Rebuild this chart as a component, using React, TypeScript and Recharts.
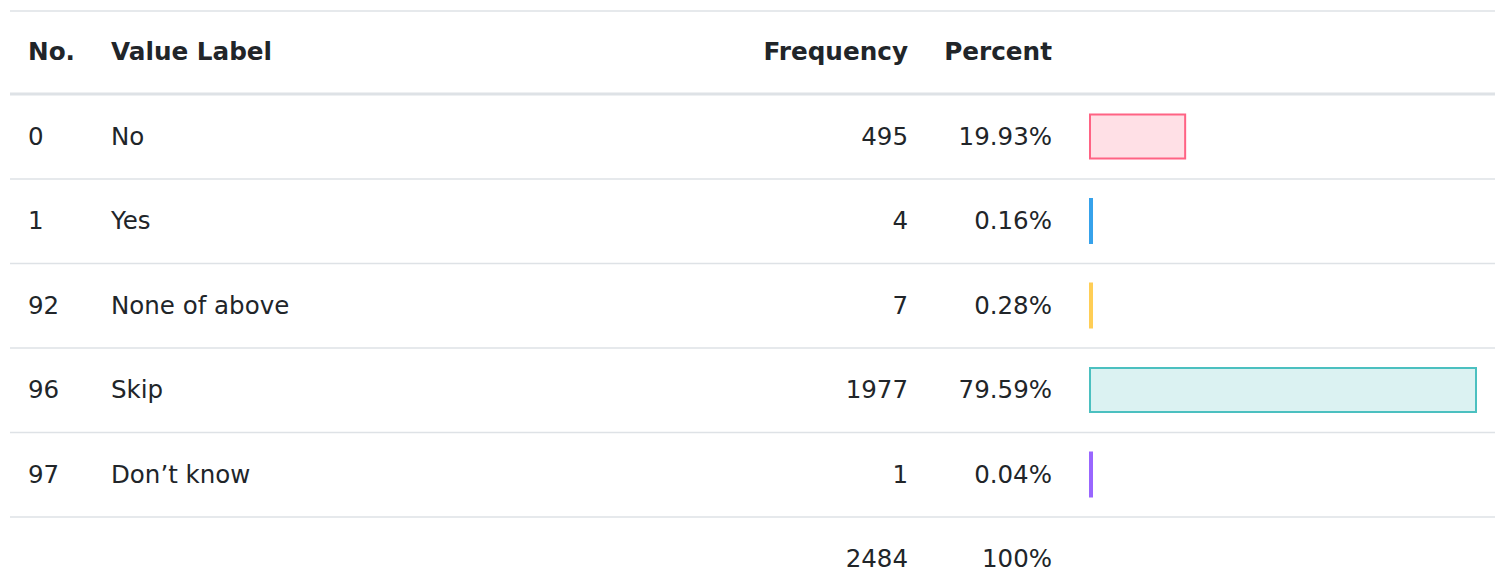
import React from 'react';
import { ComposedChart, Bar, XAxis, YAxis, Customized } from 'recharts';

const codes = ['0', '1', '92', '96', '97'];
const valueLabels = ['No', 'Yes', 'None of above', 'Skip', 'Don\u2019t know'];
const frequencies = [495, 4, 7, 1977, 1];
const percents = [19.93, 0.16, 0.28, 79.59, 0.04];
const barColors = ['#FF6384', '#36A2EB', '#FFCE56', '#4BC0C0', '#9966FF'];
const totalFrequency = 2484;
const totalPercentLabel = '100%';
const headers = ['No.', 'Value Label', 'Frequency', 'Percent'];

const data = [
  ...codes.map((c, i) => ({
    key: 'r' + i,
    code: c,
    label: valueLabels[i],
    freq: String(frequencies[i]),
    pctText: percents[i].toFixed(2) + '%',
    pct: percents[i],
    color: barColors[i],
  })),
  { key: 'total', code: '', label: '', freq: String(totalFrequency), pctText: totalPercentLabel, pct: null, color: '#000' },
];

const FONT = '"DejaVu Sans", sans-serif';
const TEXT = '#212529';
const LINE = '#dee2e6';
const TABLE_LEFT = 10;
const TABLE_RIGHT = 1495;
const COL_NO = 28;
const COL_LABEL = 111;
const COL_FREQ = 908;
const COL_PCT = 1052;
const ROW_H = 84.5;
const FS = 24.5;
const FS_BOLD = 24.7;

const RowTick = (props: any) => {
  const { y, payload } = props;
  const row = data[payload.index];
  if (!row) return null;
  const by = y + 8;
  const isLast = payload.index === data.length - 1;
  return (
    <g>
      <text x={COL_NO} y={by} fontSize={FS} fill={TEXT} fontFamily={FONT} textAnchor="start">{row.code}</text>
      <text x={COL_LABEL} y={by} fontSize={FS} fill={TEXT} fontFamily={FONT} textAnchor="start">{row.label}</text>
      <text x={COL_FREQ} y={by} fontSize={FS} fill={TEXT} fontFamily={FONT} textAnchor="end">{row.freq}</text>
      <text x={COL_PCT} y={by} fontSize={FS} fill={TEXT} fontFamily={FONT} textAnchor="end">{row.pctText}</text>
      {!isLast && (
        <line x1={TABLE_LEFT} x2={TABLE_RIGHT} y1={y + ROW_H / 2} y2={y + ROW_H / 2} stroke={LINE} strokeWidth={1.5} />
      )}
    </g>
  );
};

const Header = () => (
  <g>
    <line x1={TABLE_LEFT} x2={TABLE_RIGHT} y1={11} y2={11} stroke={LINE} strokeWidth={1.5} />
    <text x={COL_NO} y={59.5} fontSize={FS_BOLD} fontWeight="bold" fill={TEXT} fontFamily={FONT}>{headers[0]}</text>
    <text x={COL_LABEL} y={59.5} fontSize={FS_BOLD} fontWeight="bold" fill={TEXT} fontFamily={FONT}>{headers[1]}</text>
    <text x={COL_FREQ} y={59.5} fontSize={FS_BOLD} fontWeight="bold" fill={TEXT} fontFamily={FONT} textAnchor="end">{headers[2]}</text>
    <text x={COL_PCT} y={59.5} fontSize={FS_BOLD} fontWeight="bold" fill={TEXT} fontFamily={FONT} textAnchor="end">{headers[3]}</text>
    <line x1={TABLE_LEFT} x2={TABLE_RIGHT} y1={94} y2={94} stroke={LINE} strokeWidth={3} />
  </g>
);

const BarShape = (props: any) => {
  const { x, y, width, height, payload } = props;
  if (payload.pct == null) return null;
  const color = payload.color;
  if (width < 4) {
    return <rect x={x} y={y} width={4} height={height} fill={color} />;
  }
  return (
    <rect
      x={x + 1}
      y={y + 1}
      width={width - 2}
      height={height - 2}
      fill={color}
      fillOpacity={0.2}
      stroke={color}
      strokeWidth={2}
    />
  );
};

export default function App() {
  return (
    <div style={{ position: 'absolute', left: 0, top: 0, width: 1503, height: 567, overflow: 'hidden', background: '#fff' }}>
      <ComposedChart
        width={1503}
        height={620}
        data={data}
        layout="vertical"
        margin={{ top: 94.5, right: 26, bottom: 18.5, left: 1029 }}
        barCategoryGap={0}
      >
        <XAxis type="number" dataKey="pct" domain={[0, 'dataMax']} hide />
        <YAxis
          type="category"
          dataKey="key"
          width={60}
          axisLine={false}
          tickLine={false}
          interval={0}
          tick={<RowTick />}
        />
        <Customized component={<Header />} />
        <Bar dataKey="pct" barSize={46} isAnimationActive={false} shape={<BarShape />} />
      </ComposedChart>
    </div>
  );
}
